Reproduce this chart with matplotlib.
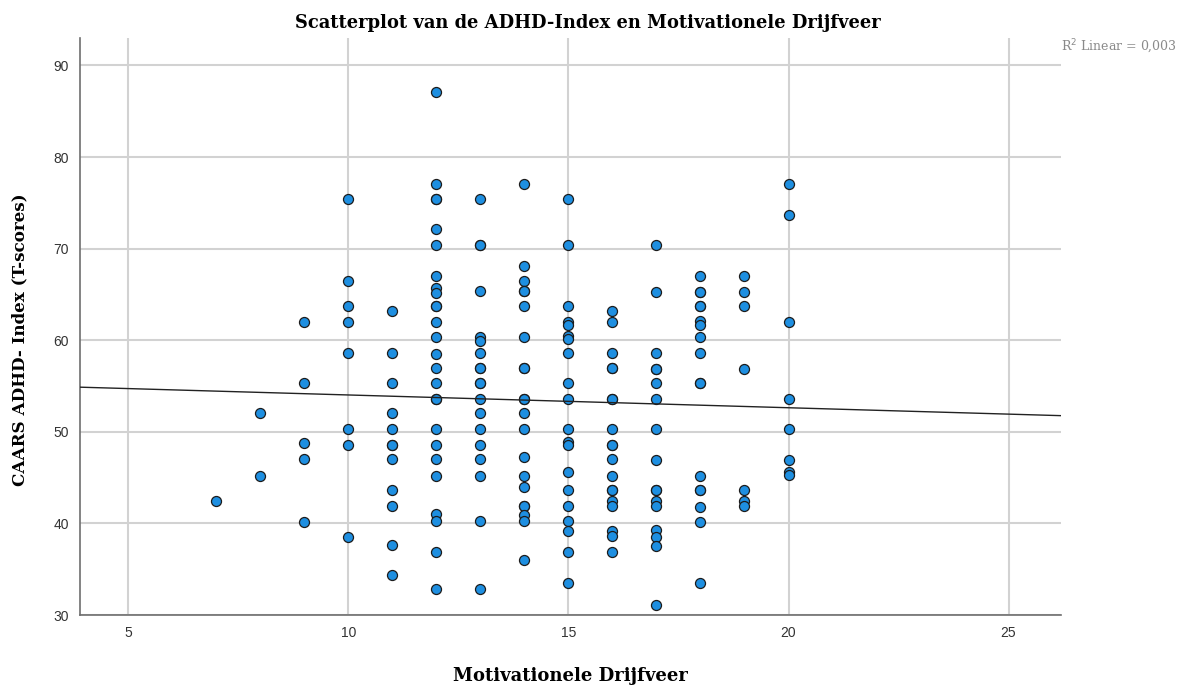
import numpy as np
import matplotlib
matplotlib.use("Agg")
import matplotlib.pyplot as plt

# x value -> list of CAARS ADHD-Index T-scores
motivatie = [7, 8, 9, 10, 11, 12, 13, 14, 15, 16, 17, 18, 19, 20]
scores = {
    7: [42.4],
    8: [52.0, 45.2],
    9: [62.0, 55.3, 48.8, 47.0, 40.2],
    10: [75.4, 66.5, 63.7, 62.0, 58.6, 50.3, 48.6, 38.5],
    11: [63.2, 58.6, 55.3, 52.0, 50.3, 48.6, 48.6, 47.0, 43.6, 41.9, 37.6, 34.4],
    12: [87.1, 77.1, 75.4, 75.4, 72.1, 70.4, 67.0, 65.7, 65.1, 63.7, 63.7, 62.0,
         60.3, 58.5, 57.0, 55.3, 53.6, 53.6, 50.3, 48.6, 47.0, 45.2, 41.0, 40.3,
         36.9, 32.8],
    13: [75.4, 70.4, 70.4, 65.4, 60.3, 59.9, 58.6, 57.0, 57.0, 55.3, 55.3, 53.6,
         52.0, 50.3, 48.6, 47.0, 45.2, 40.3, 32.8],
    14: [77.1, 68.1, 66.5, 65.4, 65.4, 63.7, 60.3, 57.0, 57.0, 53.6, 53.6, 52.0,
         50.3, 47.2, 45.2, 44.0, 41.9, 41.9, 40.9, 40.3, 36.0],
    15: [75.4, 70.4, 63.7, 62.0, 61.7, 60.5, 60.1, 58.6, 55.3, 53.6, 50.3, 48.9,
         48.6, 45.6, 43.6, 41.9, 40.3, 39.2, 36.9, 33.5],
    16: [63.2, 62.0, 58.6, 57.0, 57.0, 53.6, 53.6, 50.3, 48.6, 48.6, 47.0, 45.2,
         43.6, 43.6, 42.4, 41.9, 39.2, 38.6, 36.9],
    17: [70.4, 65.3, 58.6, 56.9, 56.9, 55.3, 53.6, 50.3, 46.9, 43.6, 43.6, 42.5,
         41.9, 39.3, 38.5, 37.5, 31.1],
    18: [67.0, 65.3, 65.3, 63.7, 63.7, 62.1, 61.7, 60.3, 58.6, 55.3, 55.3, 45.2,
         43.6, 43.6, 41.8, 40.2, 33.5],
    19: [67.0, 65.3, 63.7, 56.9, 43.6, 42.4, 41.9],
    20: [77.1, 73.7, 62.0, 53.6, 50.3, 46.9, 45.6, 45.3],
}
xticks = [5, 10, 15, 20, 25]
yticks = [30, 40, 50, 60, 70, 80, 90]

title = "Scatterplot van de ADHD-Index en Motivationele Drijfveer"
xlabel = "Motivationele Drijfveer"
ylabel = "CAARS ADHD- Index (T-scores)"

x = np.concatenate([[k] * len(scores[k]) for k in motivatie]).astype(float)
y = np.concatenate([scores[k] for k in motivatie])

fig = plt.figure(figsize=(11.94, 6.87), dpi=100)
ax = fig.add_axes([0.067, 0.1048, 0.8219, 0.84])

ax.set_xlim(3.9, 26.2)
ax.set_ylim(30, 93)
ax.set_xticks(xticks)
ax.set_yticks(yticks)
ax.grid(True, color="#d2d2d2", linewidth=1.5, zorder=0)
ax.set_axisbelow(True)
for s in ["top", "right"]:
    ax.spines[s].set_visible(False)
for s in ["left", "bottom"]:
    ax.spines[s].set_color("#6e6e6e")
    ax.spines[s].set_linewidth(1.2)
ax.tick_params(length=0, labelsize=10, labelcolor="#333333", pad=8)
for lab in ax.get_xticklabels() + ax.get_yticklabels():
    lab.set_family("Liberation Sans")

ax.scatter(x, y, s=52, facecolor="#1e8fe1", edgecolor="#1c1c1c",
           linewidth=0.9, zorder=3)

b, a = np.polyfit(x, y, 1)
xl = np.array(ax.get_xlim())
ax.plot(xl, a + b * xl, color="#222222", linewidth=1.0, zorder=4)

fig.text(0.4925, 0.966, title, ha="center", va="center", fontsize=12.9,
         fontweight="bold", family="DejaVu Serif")
fig.text(0.478, 0.016, xlabel, ha="center", va="center", fontsize=13,
         fontweight="bold", family="DejaVu Serif")
fig.text(0.017, 0.505, ylabel, ha="center", va="center", fontsize=12.1,
         fontweight="bold", family="DejaVu Serif", rotation=90)
fig.text(0.889, 0.932, "R$^2$ Linear = 0,003", ha="left", va="center",
         fontsize=9, color="#8a8a8a", family="DejaVu Serif")

fig.savefig("out.png", dpi=100)
